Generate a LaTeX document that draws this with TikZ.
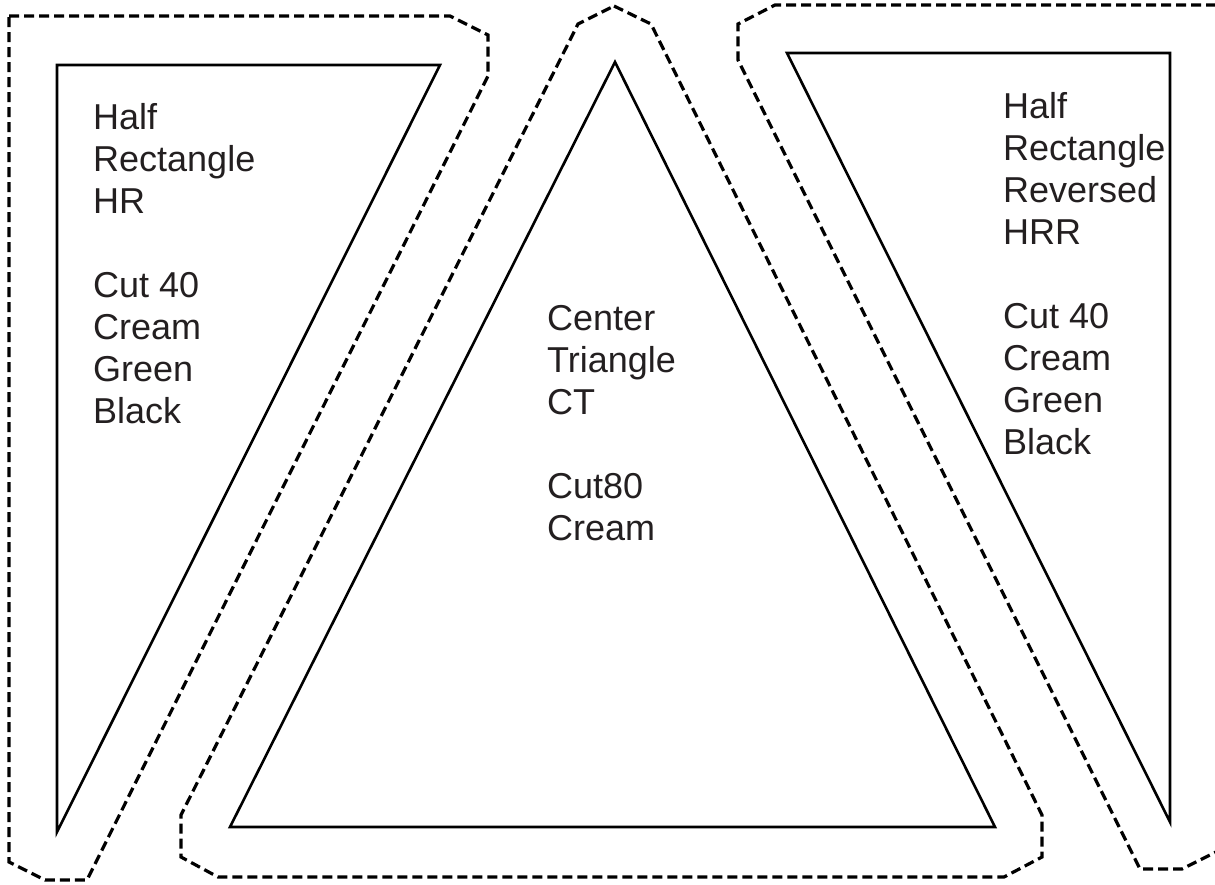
\documentclass[tikz,border=0pt]{standalone}
\usepackage{fontspec}
\setmainfont{Liberation Sans}
\definecolor{ink}{HTML}{231F20}
\begin{document}
\begin{tikzpicture}[x=1pt,y=-1pt,
  seam/.style={draw=black,line width=3.2pt,dash pattern=on 10pt off 5pt},
  piece/.style={draw=black,line width=2.6pt,line join=miter},
  label/.style={anchor=north west,inner sep=0pt,align=left,text=ink,
    font=\fontsize{36}{42}\selectfont}]
\useasboundingbox (0,0) rectangle (1215,884);
% left piece
\draw[seam] (9,16) -- (450,16) -- (488,35) -- (488,76) -- (87,880) -- (45,880) -- (9,862) -- cycle;
\draw[piece] (57,65) -- (440,65) -- (57,832) -- cycle;
% center piece
\draw[seam] (614,6) -- (651,24) -- (1042,815) -- (1042,857) -- (1004,877) -- (218,877) -- (181,857) -- (181,815) -- (578,24) -- cycle;
\draw[piece] (615,62) -- (995,827) -- (230,827) -- cycle;
% right piece
\draw[seam] (1216,5) -- (775,5) -- (738,24) -- (738,60) -- (1140,869) -- (1182,869) -- (1216,852);
\draw[piece] (787,53) -- (1170,53) -- (1170,822) -- cycle;
% labels
\node[label] (hr) at (93,103) {Half\\Rectangle\\HR\\[42pt]Cut 40\\Cream\\Green\\Black};
\node[label] (ct) at (547,305) {Center\\Triangle\\CT\\[42pt]Cut80\\Cream};
\node[label] (hrr) at (1003,92) {Half\\Rectangle\\Reversed\\HRR\\[42pt]Cut 40\\Cream\\Green\\Black};
\end{tikzpicture}
\end{document}
